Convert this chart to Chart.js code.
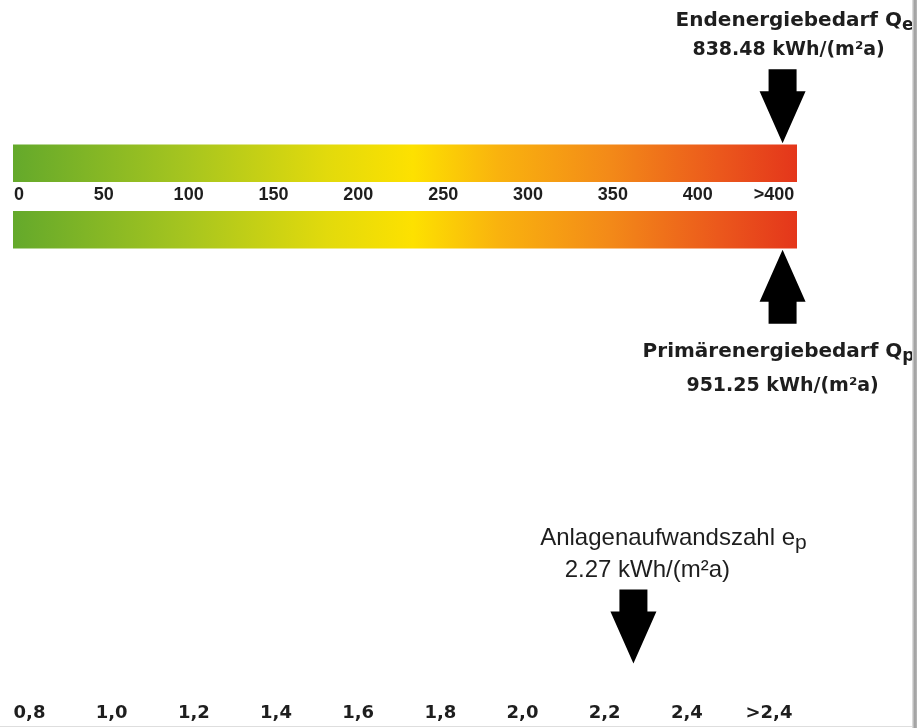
<!DOCTYPE html>
<html>
<head>
<meta charset="utf-8">
<script src="https://cdn.jsdelivr.net/npm/chart.js@4.4.0/dist/chart.umd.min.js"></script>
<style>
  html, body { margin: 0; padding: 0; background: #fff; }
  #wrap { position: relative; width: 917px; height: 728px; overflow: hidden; }
  #wrap canvas { position: absolute; left: 0; top: 0; }
  #edge { position: absolute; top: 0; right: 0; width: 5px; height: 728px;
          background: linear-gradient(to right, #e8e8e8, #9c9c9c 55%, #bababa); }
  #floor { position: absolute; left: 0; bottom: 1px; width: 912px; height: 1px; background: #dedede; }
</style>
</head>
<body>
<div id="wrap">
  <canvas id="energy" width="917" height="728"></canvas>
  <canvas id="factor" width="917" height="728"></canvas>
  <div id="edge"></div>
  <div id="floor"></div>
</div>
<script>
// Energiebedarf in kWh/(m²a)
const bandNames = ['Endenergiebedarf', 'Primärenergiebedarf'];
const bandSymbols = ['e', 'p'];
const bandValues = [838.48, 951.25];
const energyTicks = [0, 50, 100, 150, 200, 250, 300, 350, 400, 445];
const energyTickLabels = ['0', '50', '100', '150', '200', '250', '300', '350', '400', '>400'];
const energyCap = 450; // alles über 400 steht am Ende der Skala

// Anlagenaufwandszahl
const factorValue = 2.27;
const factorTicks = [0.8, 1.0, 1.2, 1.4, 1.6, 1.8, 2.0, 2.2, 2.4, 2.6];
const factorTickLabels = ['0,8', '1,0', '1,2', '1,4', '1,6', '1,8', '2,0', '2,2', '2,4', '>2,4'];

const energyMin = -3.5, energyMax = 458.5;
const textColor = '#1e1e1e';

function bandGradient(context) {
  const area = context.chart.chartArea;
  if (!area) return '#f5c000';
  const g = context.chart.ctx.createLinearGradient(area.left, 0, area.right, 0);
  g.addColorStop(0, '#64a92b');
  g.addColorStop(0.22, '#a6c51f');
  g.addColorStop(0.40, '#e2da0c');
  g.addColorStop(0.51, '#fde100');
  g.addColorStop(0.62, '#f9b20e');
  g.addColorStop(0.76, '#f38a18');
  g.addColorStop(0.90, '#eb581c');
  g.addColorStop(1, '#e4361b');
  return g;
}

// Pfeil: dir 1 zeigt nach unten, -1 nach oben
function drawArrow(ctx, x, tipY, dir) {
  const headW = 46, headH = 52, shaftW = 28, shaftH = 22;
  const baseY = tipY - dir * headH;
  const endY = baseY - dir * shaftH;
  ctx.beginPath();
  ctx.moveTo(x, tipY);
  ctx.lineTo(x - headW / 2, baseY);
  ctx.lineTo(x - shaftW / 2, baseY);
  ctx.lineTo(x - shaftW / 2, endY);
  ctx.lineTo(x + shaftW / 2, endY);
  ctx.lineTo(x + shaftW / 2, baseY);
  ctx.lineTo(x + headW / 2, baseY);
  ctx.closePath();
  ctx.fillStyle = '#000';
  ctx.fill();
}

function drawText(ctx, cx, y, text, index, family, weight, size) {
  const mainFont = weight + ' ' + size + 'px "' + family + '"';
  const subFont = weight + ' ' + (size - 3) + 'px "' + family + '"';
  ctx.font = mainFont;
  const w1 = ctx.measureText(text).width;
  let w2 = 0;
  if (index) {
    ctx.font = subFont;
    w2 = ctx.measureText(index).width;
  }
  const left = cx - (w1 + w2) / 2;
  ctx.fillStyle = textColor;
  ctx.textAlign = 'left';
  ctx.textBaseline = 'alphabetic';
  ctx.font = mainFont;
  ctx.fillText(text, left, y);
  if (index) {
    ctx.font = subFont;
    ctx.fillText(index, left + w1, y + 4);
  }
}

const bandArrows = {
  id: 'bandArrows',
  afterDatasetsDraw(chart) {
    const ctx = chart.ctx;
    const xScale = chart.scales.x;
    const bars = chart.getDatasetMeta(0).data;
    ctx.save();
    bars.forEach((bar, i) => {
      const ax = xScale.getPixelForValue(Math.min(bandValues[i], energyCap));
      const valueText = bandValues[i].toFixed(2) + ' kWh/(m²a)';
      if (i === 0) {
        const tip = bar.y - bar.height / 2 - 1.5;
        drawArrow(ctx, ax, tip, 1);
        drawText(ctx, ax + 12, tip - 117, bandNames[i] + ' Q', bandSymbols[i], 'DejaVu Sans', 'bold', 20);
        drawText(ctx, ax + 6, tip - 88, valueText, '', 'DejaVu Sans', 'bold', 19);
      } else {
        const tip = bar.y + bar.height / 2 + 1.5;
        drawArrow(ctx, ax, tip, -1);
        drawText(ctx, ax - 4, tip + 107, bandNames[i] + ' Q', bandSymbols[i], 'DejaVu Sans', 'bold', 20);
        drawText(ctx, ax, tip + 141, valueText, '', 'DejaVu Sans', 'bold', 19);
      }
    });
    ctx.restore();
  }
};

const factorArrow = {
  id: 'factorArrow',
  afterDatasetsDraw(chart) {
    const ctx = chart.ctx;
    const pt = chart.getDatasetMeta(0).data[0];
    const tip = pt.y - 36;
    ctx.save();
    drawArrow(ctx, pt.x, tip, 1);
    drawText(ctx, pt.x + 40, tip - 118, 'Anlagenaufwandszahl e', 'p', 'Liberation Sans', 'normal', 24);
    drawText(ctx, pt.x + 14, tip - 86, factorValue.toFixed(2) + ' kWh/(m²a)', '', 'Liberation Sans', 'normal', 24);
    ctx.restore();
  }
};

new Chart(document.getElementById('energy'), {
  type: 'bar',
  data: {
    labels: bandNames,
    datasets: [{
      data: bandValues.map(() => [energyMin, energyMax]),
      backgroundColor: bandGradient,
      borderWidth: 0,
      barThickness: 37
    }]
  },
  options: {
    indexAxis: 'y',
    responsive: false,
    animation: false,
    events: [],
    layout: { padding: { left: 13, right: 120, top: 130, bottom: 465 } },
    plugins: { legend: { display: false }, tooltip: { enabled: false } },
    scales: {
      y: { display: false },
      x: {
        min: energyMin,
        max: energyMax,
        position: { y: 0.5 },
        grid: { display: false, drawTicks: false },
        border: { display: false },
        afterBuildTicks: scale => { scale.ticks = energyTicks.map(v => ({ value: v })); },
        ticks: {
          autoSkip: false,
          maxRotation: 0,
          padding: -12,
          color: textColor,
          font: { family: 'Liberation Sans', size: 18, weight: 'bold' },
          callback: (v, i) => energyTickLabels[i]
        }
      }
    }
  },
  plugins: [bandArrows]
});

new Chart(document.getElementById('factor'), {
  type: 'scatter',
  data: {
    datasets: [{ data: [{ x: factorValue, y: 0 }], pointRadius: 0 }]
  },
  options: {
    responsive: false,
    animation: false,
    events: [],
    layout: { padding: { left: 29.5, right: 148, top: 500, bottom: 1 } },
    plugins: { legend: { display: false }, tooltip: { enabled: false } },
    scales: {
      y: { display: false, min: 0, max: 1 },
      x: {
        type: 'linear',
        min: 0.8,
        max: 2.6,
        position: 'bottom',
        grid: { display: false, drawTicks: false },
        border: { display: false },
        afterBuildTicks: scale => { scale.ticks = factorTicks.map(v => ({ value: v })); },
        ticks: {
          autoSkip: false,
          maxRotation: 0,
          padding: 3,
          color: textColor,
          font: { family: 'DejaVu Sans', size: 18, weight: 'bold' },
          callback: (v, i) => factorTickLabels[i]
        }
      }
    }
  },
  plugins: [factorArrow]
});
</script>
</body>
</html>
